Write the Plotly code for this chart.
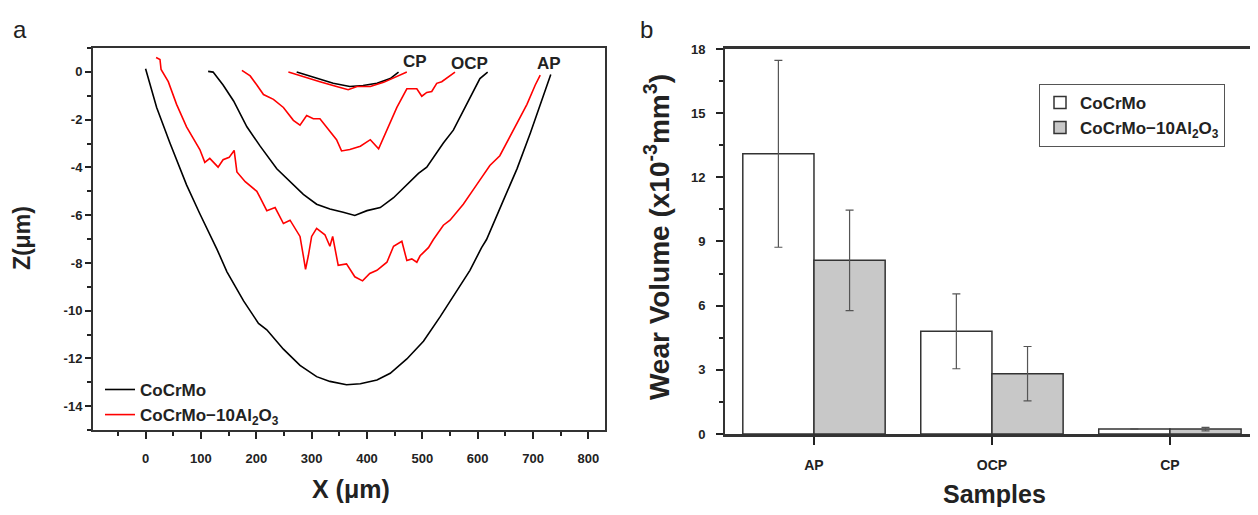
import plotly.graph_objects as go

# ---- panel a : wear track profiles (X in um, Z in um) ----
ap_cocrmo_x = [0, 20, 44, 74, 98, 120, 129, 147, 177, 204, 219, 249, 279, 309, 333, 363,
               388, 418, 442, 472, 502, 532, 562, 586, 607, 616, 646, 671, 695, 713, 732]
ap_cocrmo_z = [0.13, -1.49, -2.98, -4.73, -5.94, -6.96, -7.43, -8.37, -9.59, -10.53, -10.8,
               -11.61, -12.29, -12.76, -12.96, -13.1, -13.06, -12.9, -12.62, -12.02, -11.28,
               -10.26, -9.18, -8.31, -7.36, -7.02, -5.40, -4.06, -2.57, -1.36, -0.11]

ap_al_x = [19, 26, 28, 41, 56, 74, 98, 107, 116, 131, 140, 151, 160, 165, 180, 201, 207, 219,
           234, 249, 261, 279, 285, 289, 294, 300, 309, 324, 333, 338, 348, 363, 378, 392, 405,
           418, 436, 448, 463, 472, 481, 490, 496, 511, 520, 538, 550, 574, 598, 622, 640, 652,
           673, 689, 704, 713]
ap_al_z = [0.6, 0.52, 0.1, -0.41, -1.36, -2.3, -3.25, -3.79, -3.62, -3.99, -3.68, -3.58, -3.29,
           -4.19, -4.6, -5.0, -5.27, -5.81, -5.68, -6.35, -6.21, -6.89, -7.7, -8.27, -7.7, -6.89,
           -6.55, -6.82, -7.3, -6.89, -8.1, -8.04, -8.58, -8.75, -8.44, -8.31, -7.97, -7.3, -7.09,
           -7.9, -7.83, -7.97, -7.7, -7.36, -7.02, -6.42, -6.21, -5.54, -4.73, -3.92, -3.51,
           -2.98, -2.03, -1.36, -0.55, -0.14]

ocp_cocrmo_x = [113, 122, 140, 159, 183, 207, 237, 261, 285, 309, 333, 357, 378, 400, 424,
                448, 472, 493, 508, 538, 556, 574, 592, 604, 618]
ocp_cocrmo_z = [0.02, -0.01, -0.55, -1.22, -2.3, -3.11, -4.06, -4.6, -5.13, -5.54, -5.74,
                -5.88, -6.01, -5.81, -5.68, -5.27, -4.73, -4.25, -3.99, -2.98, -2.44, -1.63,
                -0.82, -0.28, -0.01]

ocp_al_x = [174, 189, 201, 213, 231, 249, 267, 279, 291, 303, 315, 333, 345, 354, 369, 388,
            406, 421, 436, 454, 472, 490, 499, 508, 517, 526, 535, 550, 559]
ocp_al_z = [0.06, -0.17, -0.55, -0.95, -1.15, -1.49, -2.03, -2.23, -1.83, -1.96, -1.96, -2.5,
            -2.84, -3.31, -3.25, -3.11, -2.84, -3.22, -2.44, -1.49, -0.71, -0.71, -1.02, -0.86,
            -0.82, -0.48, -0.41, -0.14, -0.01]

cp_cocrmo_x = [273, 309, 339, 369, 393, 418, 442, 457]
cp_cocrmo_z = [-0.01, -0.28, -0.48, -0.61, -0.57, -0.48, -0.28, -0.01]

cp_al_x = [258, 285, 315, 345, 366, 382, 406, 430, 454, 472]
cp_al_z = [-0.01, -0.21, -0.41, -0.61, -0.75, -0.61, -0.61, -0.44, -0.21, -0.01]

z_ticks = [0, -2, -4, -6, -8, -10, -12, -14]
z_tick_labels = ["0", "-2", "-4", "-6", "-8", "-10", "-12", "-14"]

# ---- panel b : wear volume ----
samples = ["AP", "OCP", "CP"]
wear_cocrmo = [13.1, 4.8, 0.23]
err_cocrmo = [4.37, 1.75, 0.02]
wear_al = [8.12, 2.82, 0.23]
err_al = [2.35, 1.27, 0.08]

name_a = "CoCrMo"
name_b = "CoCrMo\u221210Al<sub>2</sub>O<sub>3</sub>"

# the page adds an 8px body margin, so the figure is 16px smaller than the window
W, H = 1242, 499
OFF = 8


def px(x):
    return (x - OFF) / W


def py(y):
    return 1 - (y - OFF) / H


FONT = "Liberation Sans Narrow, Arial Narrow, Liberation Sans, Arial"
BIG = "Liberation Sans, Arial"
DARK = "#222222"

fig = go.Figure()

profiles = [
    (ap_cocrmo_x, ap_cocrmo_z, "black", name_a, True),
    (ocp_cocrmo_x, ocp_cocrmo_z, "black", name_a, False),
    (cp_cocrmo_x, cp_cocrmo_z, "black", name_a, False),
    (ap_al_x, ap_al_z, "#ff0000", name_b, True),
    (ocp_al_x, ocp_al_z, "#ff0000", name_b, False),
    (cp_al_x, cp_al_z, "#ff0000", name_b, False),
]
for xs, zs, col, nm, show in profiles:
    fig.add_trace(go.Scatter(
        x=xs, y=zs, mode="lines", name=nm, legendgroup=nm, showlegend=show,
        line=dict(color=col, width=1.6), xaxis="x", yaxis="y", legend="legend",
    ))

fig.add_trace(go.Bar(
    x=samples, y=wear_cocrmo, name=name_a, xaxis="x2", yaxis="y2", legend="legend2",
    marker=dict(color="white", line=dict(color="#333333", width=1.5)),
    error_y=dict(type="data", array=err_cocrmo, color="#555555", thickness=1.2, width=4),
))
fig.add_trace(go.Bar(
    x=samples, y=wear_al, name=name_b, xaxis="x2", yaxis="y2", legend="legend2",
    marker=dict(color="#c8c8c8", line=dict(color="#333333", width=1.5)),
    error_y=dict(type="data", array=err_al, color="#555555", thickness=1.2, width=4),
))

tickfont = dict(family=FONT, size=13, color=DARK, weight="bold")

fig.update_layout(
    width=W, height=H,
    margin=dict(l=0, r=0, t=0, b=0),
    paper_bgcolor="white", plot_bgcolor="white",
    barmode="group", bargap=0.2, bargroupgap=0,
    xaxis=dict(
        domain=[px(93), px(605)], anchor="y", range=[-95, 830],
        tick0=0, dtick=100, ticks="outside", ticklen=7, tickwidth=1.5, tickcolor=DARK,
        minor=dict(dtick=50, ticks="outside", ticklen=4, tickcolor=DARK),
        showline=True, linecolor="#333333", linewidth=2, mirror=True,
        showgrid=False, zeroline=False, tickfont=tickfont, ticklabelstandoff=8,
    ),
    yaxis=dict(
        domain=[py(436), py(42)], anchor="x", range=[-15, 1],
        tickvals=z_ticks, ticktext=z_tick_labels,
        ticks="outside", ticklen=6, tickwidth=1.5, tickcolor=DARK,
        minor=dict(dtick=1, ticks="outside", ticklen=4, tickcolor=DARK),
        showline=True, linecolor="#333333", linewidth=2, mirror=True,
        showgrid=False, zeroline=False, tickfont=tickfont,
    ),
    xaxis2=dict(
        domain=[px(725), 1.0], anchor="y2", range=[-0.5, 2.45],
        ticks="outside", ticklen=8, tickwidth=1.5, tickcolor=DARK,
        showline=True, linecolor="#333333", linewidth=2.5, mirror=True,
        showgrid=False, zeroline=False,
        tickfont=dict(family=FONT, size=14, color=DARK, weight="bold"), ticklabelstandoff=8,
    ),
    xaxis3=dict(
        domain=[px(725), 1.0], anchor="y2", overlaying="x2", range=[-0.5, 2.45],
        tick0=-0.5, dtick=1, ticks="outside", ticklen=6, tickwidth=1.5, tickcolor=DARK,
        showticklabels=False, showline=False, showgrid=False, zeroline=False,
    ),
    yaxis2=dict(
        domain=[py(440), py(43)], anchor="x2", range=[0, 18],
        tick0=0, dtick=3, ticks="outside", ticklen=7, tickwidth=1.5, tickcolor=DARK,
        minor=dict(dtick=1.5, ticks="outside", ticklen=4, tickcolor=DARK),
        showline=True, linecolor="#333333", linewidth=2,
        showgrid=False, zeroline=False, tickfont=tickfont, ticklabelstandoff=8,
    ),
    legend=dict(
        x=px(100), y=py(376), xanchor="left", yanchor="top",
        bgcolor="rgba(0,0,0,0)", tracegroupgap=0,
        font=dict(family=BIG, size=17, color=DARK, weight="bold"),
    ),
    legend2=dict(
        x=px(1039), y=py(79), xanchor="left", yanchor="top",
        bgcolor="white", bordercolor="#555555", borderwidth=1,
        font=dict(family=BIG, size=17, color=DARK, weight="bold"),
    ),
)

annos = [
    dict(text="a", x=px(20), y=py(23), font=dict(family=BIG, size=24, color=DARK)),
    dict(text="b", x=px(647), y=py(23), font=dict(family=BIG, size=24, color=DARK)),
    dict(text="<b>Z(\u03bcm)</b>", x=px(22), y=py(238), textangle=-90,
         font=dict(family=BIG, size=23, color=DARK)),
    dict(text="<b>X (\u03bcm)</b>", x=px(351), y=py(497),
         font=dict(family=BIG, size=25, color=DARK)),
    dict(text="<b>Wear Volume (x10<sup>-3</sup>mm<sup>3</sup>)</b>", x=px(657), y=py(237),
         textangle=-90, font=dict(family=BIG, size=28, color=DARK)),
    dict(text="<b>Samples</b>", x=px(994), y=py(502),
         font=dict(family=BIG, size=25, color=DARK)),
]
for a in annos:
    fig.add_annotation(xref="paper", yref="paper", showarrow=False,
                       xanchor="center", yanchor="middle", **a)

# curve labels in panel a
for txt, lx, lz in [("CP", 487, 0.45), ("OCP", 586, 0.35), ("AP", 728, 0.35)]:
    fig.add_annotation(x=lx, y=lz, xref="x", yref="y", text="<b>" + txt + "</b>",
                       showarrow=False, font=dict(family=BIG, size=17, color=DARK))

fig.write_html("out.html")
